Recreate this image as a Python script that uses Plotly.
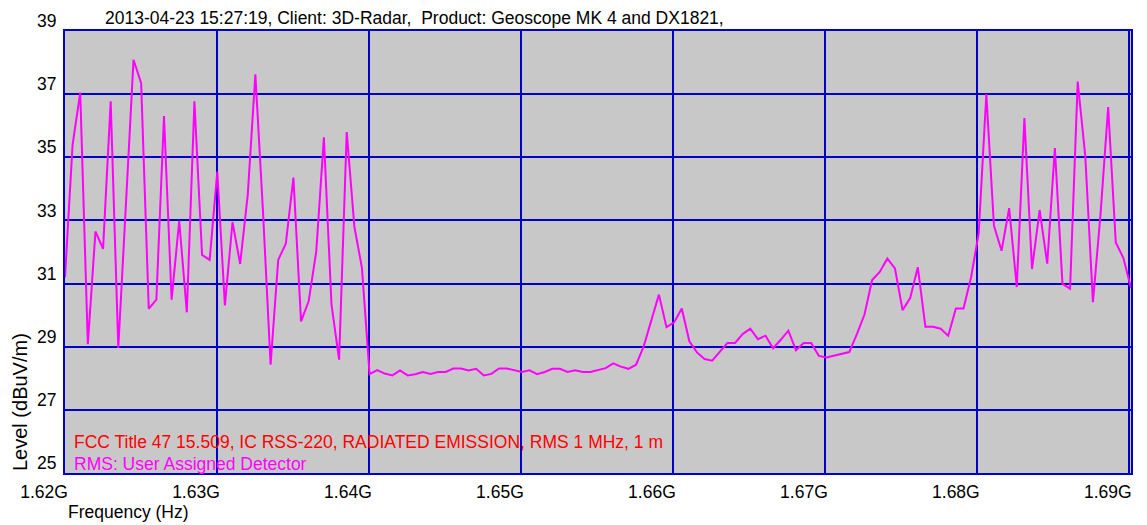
import plotly.graph_objects as go

# sweep settings of the analyser (Hz)
FREQ_START = 1.62e9
FREQ_STEP = 0.501e6

# measured RMS level, dBuV/m, one value per sweep point
level = [
    31.2, 35.4, 37.05, 29.08, 32.65, 32.1, 36.77, 28.96, 33.5, 38.09,
    37.35, 30.2, 30.49, 36.31, 30.49, 32.99, 30.09, 36.77, 31.91, 31.75,
    34.55, 30.31, 32.95, 31.62, 33.81, 37.63, 33.3, 28.43, 31.75, 32.26,
    34.36, 29.8, 30.44, 32.02, 35.63, 30.33, 28.59, 35.8, 32.81, 31.49,
    28.13, 28.26, 28.15, 28.09, 28.25, 28.09, 28.13, 28.2, 28.14, 28.2,
    28.2, 28.31, 28.31, 28.25, 28.3, 28.09, 28.14, 28.31, 28.31, 28.25,
    28.2, 28.25, 28.13, 28.2, 28.3, 28.3, 28.2, 28.25, 28.2, 28.2,
    28.25, 28.32, 28.47, 28.37, 28.3, 28.43, 29.01, 29.86, 30.65, 29.62,
    29.77, 30.21, 29.17, 28.82, 28.61, 28.56, 28.83, 29.12, 29.12, 29.4,
    29.57, 29.24, 29.35, 28.95, 29.22, 29.51, 28.89, 29.12, 29.12, 28.71,
    28.66, 28.72, 28.78, 28.83, 29.4, 30.02, 31.11, 31.37, 31.79, 31.48,
    30.16, 30.54, 31.52, 29.63, 29.63, 29.57, 29.35, 30.21, 30.21, 31.2,
    32.6, 37.0, 32.84, 32.04, 33.39, 30.89, 36.24, 31.46, 33.33, 31.63,
    35.29, 30.99, 30.84, 37.4, 35.03, 30.41, 33.2, 36.59, 32.3, 31.81,
    30.86,
]
freq = [FREQ_START + i * FREQ_STEP for i in range(len(level))]

x_ticks = [1.62e9, 1.63e9, 1.64e9, 1.65e9, 1.66e9, 1.67e9, 1.68e9, 1.69e9]
y_ticks = [25, 27, 29, 31, 33, 35, 37, 39]

header = "2013-04-23 15:27:19, Client: 3D-Radar,  Product: Geoscope MK 4 and DX1821,"
limit_label = "FCC Title 47 15.509, IC RSS-220, RADIATED EMISSION, RMS 1 MHz, 1 m"
trace_label = "RMS: User Assigned Detector"

FONT = "Liberation Sans, Arial"
GRID = "#0000C8"

# the page body has an 8px margin, so the figure is 8px smaller than the window
PLOT_W, PLOT_H = 1066, 442

fig = go.Figure()
fig.add_trace(
    go.Scatter(x=freq, y=level, mode="lines", line=dict(color="#FF00FF", width=2))
)

fig.update_layout(
    width=1139,
    height=517,
    margin=dict(l=57, r=16, t=23, b=52),
    paper_bgcolor="white",
    plot_bgcolor="#C8C8C8",
    showlegend=False,
    font=dict(family=FONT, size=17.5, color="black"),
    xaxis=dict(
        range=[freq[0], freq[-1]],
        tickvals=x_ticks,
        tickformat=".3s",
        showgrid=True,
        gridcolor=GRID,
        gridwidth=2,
        showline=True,
        linecolor=GRID,
        linewidth=2,
        mirror=True,
        zeroline=False,
        ticks="",
        ticklabelshift=-21,
        ticklabelstandoff=2,
        automargin=False,
    ),
    yaxis=dict(
        range=[25, 39],
        tickvals=y_ticks,
        showgrid=True,
        gridcolor=GRID,
        gridwidth=2,
        showline=True,
        linecolor=GRID,
        linewidth=2,
        mirror=True,
        zeroline=False,
        ticks="",
        ticklabelshift=-10,
        ticklabelstandoff=3,
        automargin=False,
    ),
)

fig.add_annotation(
    text=header, xref="paper", yref="paper", x=38 / PLOT_W, y=455 / PLOT_H,
    xanchor="left", yanchor="middle", showarrow=False,
)
fig.add_annotation(
    text=limit_label, xref="paper", yref="paper", x=7 / PLOT_W, y=31 / PLOT_H,
    xanchor="left", yanchor="middle", showarrow=False, font=dict(color="#FF0000"),
)
fig.add_annotation(
    text=trace_label, xref="paper", yref="paper", x=7 / PLOT_W, y=9 / PLOT_H,
    xanchor="left", yanchor="middle", showarrow=False, font=dict(color="#FF00FF"),
)
fig.add_annotation(
    text="Frequency (Hz)", xref="paper", yref="paper", x=1 / PLOT_W, y=-39 / PLOT_H,
    xanchor="left", yanchor="middle", showarrow=False,
)
fig.add_annotation(
    text="Level (dBuV/m)", xref="paper", yref="paper", x=-58 / PLOT_W, y=0,
    xanchor="left", yanchor="bottom", textangle=-90, showarrow=False,
    font=dict(size=20),
)

fig.write_html("out.html")
